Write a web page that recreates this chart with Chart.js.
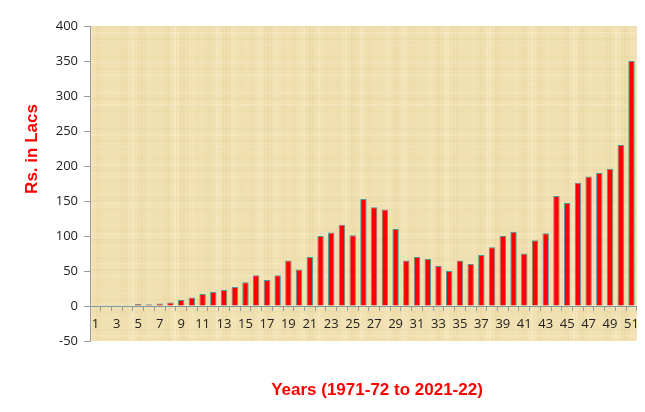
<!DOCTYPE html>
<html>
<head>
<meta charset="utf-8">
<script src="https://cdn.jsdelivr.net/npm/chart.js@4.4.1/dist/chart.umd.min.js"></script>
<style>
  html, body { margin: 0; padding: 0; background: #ffffff; }
  #wrap { width: 645px; height: 412px; position: relative; }
</style>
</head>
<body>
<div id="wrap"><canvas id="c" width="645" height="412"></canvas></div>
<script>
// ---- Data ----
const categories = Array.from({length: 51}, (_, i) => String(i + 1));
const values = [
  0.3, 1, 1, 1, 3, 2.5, 3.5, 5, 8.5, 12,
  17, 20, 23, 27, 34, 44, 37, 44, 65, 52,
  70, 100, 105, 116, 101, 153, 141, 138, 110, 65,
  70, 67, 57, 50, 65, 60, 73, 84, 100, 106,
  75, 94, 104, 157, 147, 176, 185, 190, 196, 230,
  350
];
const yTicks = [-50, 0, 50, 100, 150, 200, 250, 300, 350, 400];
const yTitle = 'Rs. in Lacs';
const xTitle = 'Years (1971-72 to 2021-22)';

// papyrus-like background texture for plot area (deterministic)
const papyrusPlugin = {
  id: 'papyrus',
  beforeDraw(chart) {
    const {ctx, chartArea: a} = chart;
    ctx.save();
    ctx.fillStyle = '#f1e0b0';
    ctx.fillRect(a.left, a.top, a.right - a.left, a.bottom - a.top);
    ctx.beginPath();
    ctx.rect(a.left, a.top, a.right - a.left, a.bottom - a.top);
    ctx.clip();
    for (let x = a.left; x < a.right; x += 3) {
      const v = Math.sin(x * 0.37) * Math.cos(x * 0.071);
      ctx.fillStyle = v > 0 ? 'rgba(255,248,225,' + (0.3 * v) + ')' : 'rgba(205,175,115,' + (-0.12 * v) + ')';
      ctx.fillRect(x, a.top, 2, a.bottom - a.top);
    }
    for (let y = a.top; y < a.bottom; y += 3) {
      const v = Math.sin(y * 0.53) * Math.cos(y * 0.093);
      ctx.fillStyle = v > 0 ? 'rgba(255,248,225,' + (0.25 * v) + ')' : 'rgba(205,175,115,' + (-0.1 * v) + ')';
      ctx.fillRect(a.left, y, a.right - a.left, 1.5);
    }
    ctx.restore();
  },
  afterDraw(chart) {
    const {ctx} = chart;
    ctx.save();
    ctx.fillStyle = '#ff0000';
    ctx.font = 'bold 17px "Liberation Sans", Arial, sans-serif';
    ctx.textAlign = 'center';
    ctx.textBaseline = 'middle';
    ctx.save();
    ctx.translate(32, 149);
    ctx.rotate(-Math.PI / 2);
    ctx.fillText(yTitle, 0, 0);
    ctx.restore();
    ctx.fillText(xTitle, 377, 390);
    ctx.restore();
  }
};

new Chart(document.getElementById('c'), {
  type: 'bar',
  data: {
    labels: categories,
    datasets: [{
      data: values,
      backgroundColor: '#ff0000',
      borderColor: '#4e9a9a',
      borderWidth: 1,
      barPercentage: 0.6,
      categoryPercentage: 1.0
    }]
  },
  options: {
    responsive: false,
    animation: false,
    layout: { padding: { left: 0, right: 8, top: 26, bottom: 71 } },
    plugins: { legend: { display: false }, tooltip: { enabled: false } },
    scales: {
      x: {
        position: { y: 0 },
        grid: { display: true, drawOnChartArea: false, drawTicks: true, tickLength: 4, color: '#9a9a9a', offset: true },
        border: { display: true, color: '#7a9aa8', width: 1 },
        ticks: {
          autoSkip: false,
          maxRotation: 0,
          color: '#222',
          font: { family: '"Open Sans", "Noto Sans", sans-serif', size: 13 },
          padding: 6,
          callback: function(v, i) { return i % 2 === 0 ? categories[i] : ''; }
        }
      },
      y: {
        min: -50,
        max: 400,
        afterBuildTicks: function(scale) { scale.ticks = yTicks.map(v => ({value: v})); },
        afterFit: function(scale) { scale.width = 90; },
        grid: { display: true, drawOnChartArea: false, drawTicks: true, tickLength: 6, color: '#9a9a9a' },
        border: { display: true, color: '#9a9a9a', width: 1 },
        ticks: {
          color: '#222',
          font: { family: '"Open Sans", "Noto Sans", sans-serif', size: 13 },
          padding: 6
        }
      }
    }
  },
  plugins: [papyrusPlugin]
});
</script>
</body>
</html>
